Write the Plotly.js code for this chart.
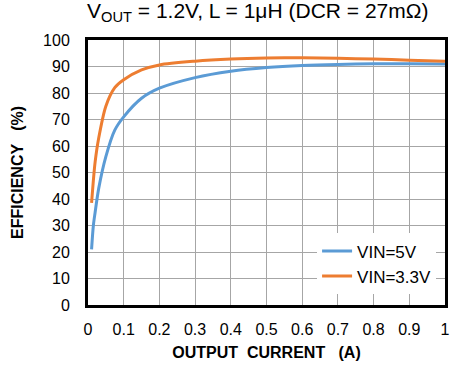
<!DOCTYPE html>
<html><head><meta charset="utf-8">
<script src="https://cdn.plot.ly/plotly-3.0.1.min.js"></script>
<style>html,body{margin:0;padding:0;background:#fff;}#chart{width:466px;height:372px;}</style>
</head><body><div id="chart"></div>
<script>
const currentA = [0.01, 0.015, 0.02, 0.03, 0.05, 0.075, 0.1, 0.15, 0.2, 0.3, 0.4, 0.5, 0.6, 0.7, 0.8, 0.9, 1.0];
const effVin5 = [21, 30, 35, 44, 56, 66, 71, 78, 81.8, 85.8, 88.2, 89.6, 90.4, 90.8, 91, 91, 90.9];
const effVin33 = [38.5, 47, 54, 63, 75, 82, 85, 88.7, 90.6, 92, 92.8, 93.2, 93.3, 93.1, 92.8, 92.4, 92];
const seriesNames = ["VIN=5V", "VIN=3.3V"];

const font = "Liberation Sans, Arial, sans-serif";
const data = [
  {x: currentA, y: effVin5, name: seriesNames[0], mode: "lines", line: {color: "#5B9BD5", width: 3, shape: "spline", smoothing: 0.8}},
  {x: currentA, y: effVin33, name: seriesNames[1], mode: "lines", line: {color: "#ED7D31", width: 3, shape: "spline", smoothing: 0.8}}
];
const layout = {
  width: 466, height: 372,
  margin: {l: 88, r: 21, t: 40, b: 67},
  paper_bgcolor: "#fff", plot_bgcolor: "#fff",
  font: {family: font, size: 16, color: "#000"},
  title: {text: "V<sub>OUT</sub> = 1.2V, L = 1μH (DCR = 27mΩ)", font: {family: font, size: 21, color: "#000"}, x: 0.553, xanchor: "center", y: 0.972, yanchor: "middle"},
  xaxis: {range: [0, 1], dtick: 0.1, tick0: 0, showgrid: true, gridcolor: "#a6a6a6", gridwidth: 1,
    showline: true, linecolor: "#000", linewidth: 3, mirror: true, zeroline: false, ticks: "", ticklen: 0,
    ticklabelstandoff: 8,
    tickfont: {family: font, size: 16, color: "#000"},
    title: {text: "<b>OUTPUT  CURRENT   (A)</b>", font: {family: font, size: 16, color: "#000"}, standoff: 10}},
  yaxis: {range: [0, 100], dtick: 10, tick0: 0, showgrid: true, gridcolor: "#a6a6a6", gridwidth: 1,
    showline: true, linecolor: "#000", linewidth: 3, mirror: true, zeroline: false, ticks: "", ticklen: 0,
    ticklabelstandoff: 12,
    tickfont: {family: font, size: 16, color: "#000"},
    title: {text: "<b>EFFICIENCY   (%)</b>", font: {family: font, size: 16, color: "#000"}, standoff: 16}},
  showlegend: true,
  legend: {x: 0.975, xanchor: "right", y: 0.04, yanchor: "bottom", bgcolor: "#fff", borderwidth: 0,
    font: {family: font, size: 17, color: "#000"}, tracegroupgap: 0}
};
Plotly.newPlot("chart", data, layout, {staticPlot: true, displayModeBar: false});
</script></body></html>
